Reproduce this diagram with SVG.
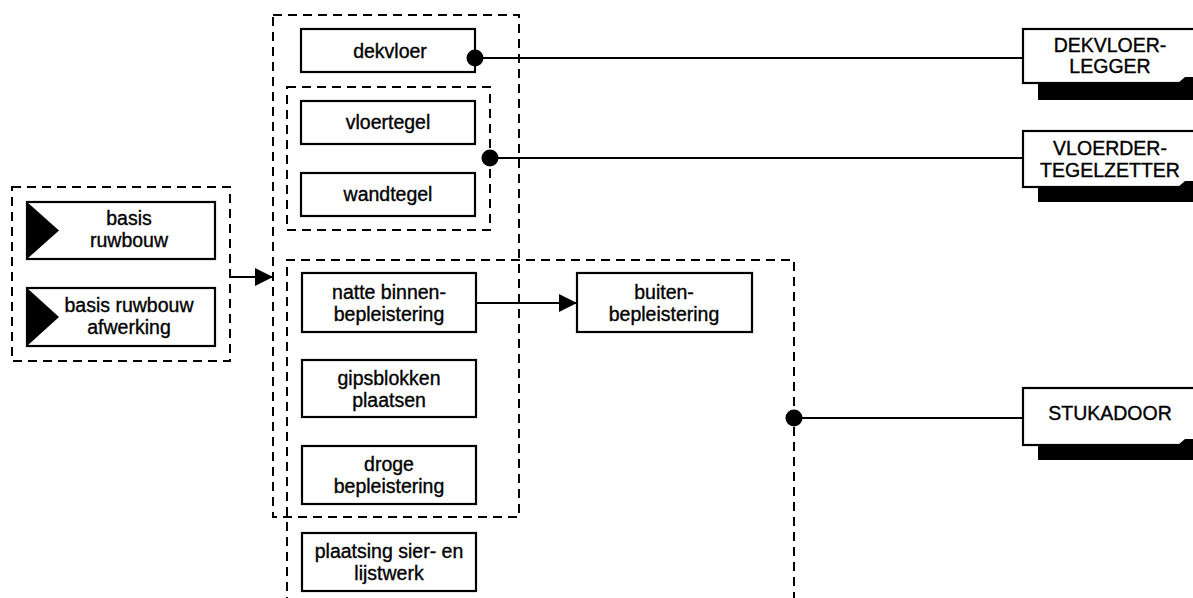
<svg xmlns="http://www.w3.org/2000/svg" width="1193" height="598" viewBox="0 0 1193 598">
<defs>
<style>
.box{fill:#fff;stroke:#000;stroke-width:2.2}
.grp{fill:none;stroke:#000;stroke-width:2;stroke-dasharray:9 6}
.t{font-family:"Liberation Sans",Arial,sans-serif;font-size:19.5px;fill:#000;stroke:#000;stroke-width:0.35;text-anchor:middle}
.ln{fill:none;stroke:#000;stroke-width:1.8}
.dot{fill:#000}
.sh{fill:#000}
</style>
<marker id="arr" markerWidth="18" markerHeight="18" refX="18" refY="9" orient="auto" markerUnits="userSpaceOnUse">
<path d="M0,0 L18,9 L0,18 Z" fill="#000"/>
</marker>
</defs>
<rect width="1193" height="598" fill="#fff"/>

<g id="groups">
<rect id="grp-basis" class="grp" x="12" y="187" width="218" height="174"/>
<rect id="grp-middle" class="grp" x="273" y="15" width="246" height="502"/>
<rect id="grp-tegel" class="grp" x="287" y="87" width="203" height="143"/>
<path id="grp-stuc" class="grp" d="M287,606 L287,260 L794,260 L794,606"/>
</g>

<g id="basis-ruwbouw">
<rect class="box" x="27" y="202" width="188" height="57"/>
<path d="M27,202 L59,230.5 L27,259 Z" fill="#000"/>
<text class="t" x="129" y="225">basis</text>
<text class="t" x="129" y="247">ruwbouw</text>
</g>
<g id="basis-ruwbouw-afwerking">
<rect class="box" x="27" y="288" width="188" height="58"/>
<path d="M27,288 L59,317 L27,346 Z" fill="#000"/>
<text class="t" x="129" y="312">basis ruwbouw</text>
<text class="t" x="129" y="334">afwerking</text>
</g>

<g id="dekvloer">
<rect class="box" x="301" y="29" width="174" height="43"/>
<text class="t" x="390" y="58">dekvloer</text>
</g>
<g id="vloertegel">
<rect class="box" x="301" y="101" width="174" height="43"/>
<text class="t" x="388" y="129">vloertegel</text>
</g>
<g id="wandtegel">
<rect class="box" x="301" y="173" width="174" height="43"/>
<text class="t" x="388" y="201">wandtegel</text>
</g>
<g id="natte-binnenbepleistering">
<rect class="box" x="302" y="273" width="174" height="59"/>
<text class="t" x="389" y="299">natte binnen-</text>
<text class="t" x="389" y="321">bepleistering</text>
</g>
<g id="gipsblokken">
<rect class="box" x="302" y="360" width="174" height="57"/>
<text class="t" x="389" y="385">gipsblokken</text>
<text class="t" x="389" y="407">plaatsen</text>
</g>
<g id="droge-bepleistering">
<rect class="box" x="302" y="446" width="174" height="58"/>
<text class="t" x="389" y="471">droge</text>
<text class="t" x="389" y="493">bepleistering</text>
</g>
<g id="sierwerk">
<rect class="box" x="302" y="533" width="174" height="58"/>
<text class="t" x="389" y="558">plaatsing sier- en</text>
<text class="t" x="389" y="580">lijstwerk</text>
</g>
<g id="buitenbepleistering">
<rect class="box" x="577" y="273" width="175" height="59"/>
<text class="t" x="664" y="299">buiten-</text>
<text class="t" x="664" y="321">bepleistering</text>
</g>

<g id="dekvloerlegger">
<rect class="sh" x="1038" y="83" width="170" height="17"/>
<rect class="box" x="1023" y="29" width="175" height="54"/>
<path class="sh" d="M1178,83 L1185,77 L1193,77 L1193,83 Z"/>
<text class="t" x="1110" y="52">DEKVLOER-</text>
<text class="t" x="1110" y="73">LEGGER</text>
</g>
<g id="vloerdertegelzetter">
<rect class="sh" x="1038" y="187" width="170" height="15"/>
<rect class="box" x="1023" y="131" width="175" height="56"/>
<path class="sh" d="M1178,187 L1185,181 L1193,181 L1193,187 Z"/>
<text class="t" x="1110" y="155">VLOERDER-</text>
<text class="t" x="1110" y="177">TEGELZETTER</text>
</g>
<g id="stukadoor">
<rect class="sh" x="1038" y="445" width="170" height="15"/>
<rect class="box" x="1023" y="388" width="175" height="57"/>
<path class="sh" d="M1178,445 L1185,439 L1193,439 L1193,445 Z"/>
<text class="t" x="1110" y="420">STUKADOOR</text>
</g>

<g id="connectors">
<line class="ln" x1="230" y1="277" x2="273" y2="277" marker-end="url(#arr)"/>
<line class="ln" x1="476" y1="303" x2="577" y2="303" marker-end="url(#arr)"/>
<line class="ln" x1="475" y1="58" x2="1023" y2="58"/>
<circle class="dot" cx="475" cy="58" r="8.5"/>
<line class="ln" x1="490" y1="158" x2="1023" y2="158"/>
<circle class="dot" cx="490" cy="158" r="8.5"/>
<line class="ln" x1="794" y1="418" x2="1023" y2="418"/>
<circle class="dot" cx="794" cy="418" r="8.5"/>
</g>
</svg>
